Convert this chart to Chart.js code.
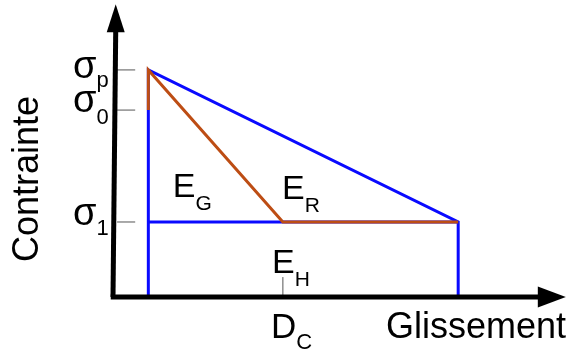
<!DOCTYPE html>
<html>
<head>
<meta charset="utf-8">
<script src="https://cdn.jsdelivr.net/npm/chart.js@4/dist/chart.umd.min.js"></script>
<style>
  html, body { margin: 0; padding: 0; background: #fff; }
  canvas { display: block; }
</style>
</head>
<body>
<canvas id="myChart" width="571" height="356"></canvas>
<script>
// slip values: onset of slip, Dc, end of slip
const slipValues = [7.8, 37.5, 76.2];
// stress values: sigma p, sigma 0, sigma 1
const stressValues = [77.5, 63.8, 25.6];
const stressLabels = [['σ', 'p'], ['σ', '0'], ['σ', '1']];
const slipLabels = [['D', 'C']];
// energies and where they sit (data units)
const energyLabels = [['E', 'G'], ['E', 'R'], ['E', 'H']];
const energyX = [13.2, 37.3, 35.1];
const energyY = [34.1, 33.4, 8.2];
// axes
const xAxisX = [-0.5, 94];
const xAxisY = [0, 0];
const yAxisX = [0, 0.6];
const yAxisY = [0, 91];
const xTitle = 'Glissement';
const yTitle = 'Contrainte';

const onset = slipValues[0], dc = slipValues[1], slipEnd = slipValues[2];
const sigmaP = stressValues[0], sigma0 = stressValues[1], sigma1 = stressValues[2];

const BLUE = '#0a0aff';
const BROWN = '#bd4d14';
const FONT = '"Liberation Sans", Arial, sans-serif';

function pts(xs, ys){
  return xs.map((x, i) => ({x: x, y: ys[i]}));
}

// tick marks (short gray lines)
const tickData = [];
stressValues.forEach(v => {
  tickData.push({x: 0.9, y: v}, {x: 4.9, y: v}, {x: null, y: null});
});
const dcTick = [{x: dc, y: 0}, {x: dc, y: 6.8}];

const data = {
  datasets: [
    { // brown curve
      data: pts([onset, onset, dc, slipEnd], [sigma0, sigmaP, sigma1, sigma1]),
      borderColor: BROWN, borderWidth: 3, order: 1
    },
    { // blue outline
      data: pts([onset, onset, slipEnd, slipEnd], [0, sigmaP, sigma1, 0]),
      borderColor: BLUE, borderWidth: 3, order: 2
    },
    { // blue horizontal
      data: pts([onset, slipEnd], [sigma1, sigma1]),
      borderColor: BLUE, borderWidth: 3, order: 3
    },
    { // x axis
      data: pts(xAxisX, xAxisY),
      borderColor: '#000', borderWidth: 5, order: 0
    },
    { // y axis
      data: pts(yAxisX, yAxisY),
      borderColor: '#000', borderWidth: 5, order: 0
    },
    { // stress ticks
      data: tickData, spanGaps: false,
      borderColor: '#555', borderWidth: 1, order: 4
    },
    { // Dc tick
      data: dcTick,
      borderColor: '#555', borderWidth: 1, order: 4
    }
  ]
};

function drawSub(ctx, main, sub, x, y, size, subSize, subDy){
  ctx.font = size + 'px ' + FONT;
  ctx.fillText(main, x, y);
  const w = ctx.measureText(main).width;
  ctx.font = subSize + 'px ' + FONT;
  ctx.fillText(sub, x + w, y + subDy);
}

const labelPlugin = {
  id: 'labels',
  afterDatasetsDraw(chart){
    const ctx = chart.ctx;
    const xs = chart.scales.x, ys = chart.scales.y;
    ctx.save();
    ctx.fillStyle = '#000';

    // arrow heads
    const yTopX = xs.getPixelForValue(yAxisX[1]);
    const yTopY = ys.getPixelForValue(yAxisY[1]);
    ctx.beginPath();
    ctx.moveTo(yTopX, yTopY - 26);
    ctx.lineTo(yTopX - 9, yTopY + 2);
    ctx.lineTo(yTopX + 9, yTopY + 2);
    ctx.closePath();
    ctx.fill();

    const xEndX = xs.getPixelForValue(xAxisX[1]);
    const xEndY = ys.getPixelForValue(xAxisY[1]);
    ctx.beginPath();
    ctx.moveTo(xEndX + 27, xEndY);
    ctx.lineTo(xEndX - 1, xEndY - 10.5);
    ctx.lineTo(xEndX - 1, xEndY + 10.5);
    ctx.closePath();
    ctx.fill();

    ctx.textBaseline = 'alphabetic';
    ctx.textAlign = 'left';

    // stress labels
    const stressDy = [8, 2, 3];
    const stressSubDy = [9, 12, 10];
    stressValues.forEach((v, i) => {
      const py = ys.getPixelForValue(v);
      drawSub(ctx, stressLabels[i][0], stressLabels[i][1], 73, py + stressDy[i], 38, 22, stressSubDy[i]);
    });

    // Dc label
    const dcX = xs.getPixelForValue(dc);
    drawSub(ctx, slipLabels[0][0], slipLabels[0][1], dcX - 12, 338, 35, 22, 11);

    // energies
    energyLabels.forEach((l, i) => {
      drawSub(ctx, l[0], l[1], xs.getPixelForValue(energyX[i]), ys.getPixelForValue(energyY[i]), 34, 21, 13);
    });

    // axis titles
    ctx.font = '36px ' + FONT;
    ctx.fillText(xTitle, 386, 338);
    ctx.translate(38, 262);
    ctx.rotate(-Math.PI / 2);
    ctx.fillText(yTitle, 0, 0);
    ctx.restore();
  }
};

new Chart(document.getElementById('myChart').getContext('2d'), {
  type: 'scatter',
  data: data,
  options: {
    responsive: false,
    animation: false,
    devicePixelRatio: 1,
    layout: { padding: { left: 113, right: 5, top: 4, bottom: 59 } },
    showLine: true,
    datasets: { scatter: { showLine: true, clip: false, pointRadius: 0, fill: false } },
    elements: { point: { radius: 0 }, line: { tension: 0, borderCapStyle: 'butt', borderJoinStyle: 'miter' } },
    scales: {
      x: { type: 'linear', min: 0, max: 100, display: false },
      y: { type: 'linear', min: 0, max: 100, display: false }
    },
    plugins: { legend: { display: false }, tooltip: { enabled: false } }
  },
  plugins: [labelPlugin]
});
</script>
</body>
</html>
